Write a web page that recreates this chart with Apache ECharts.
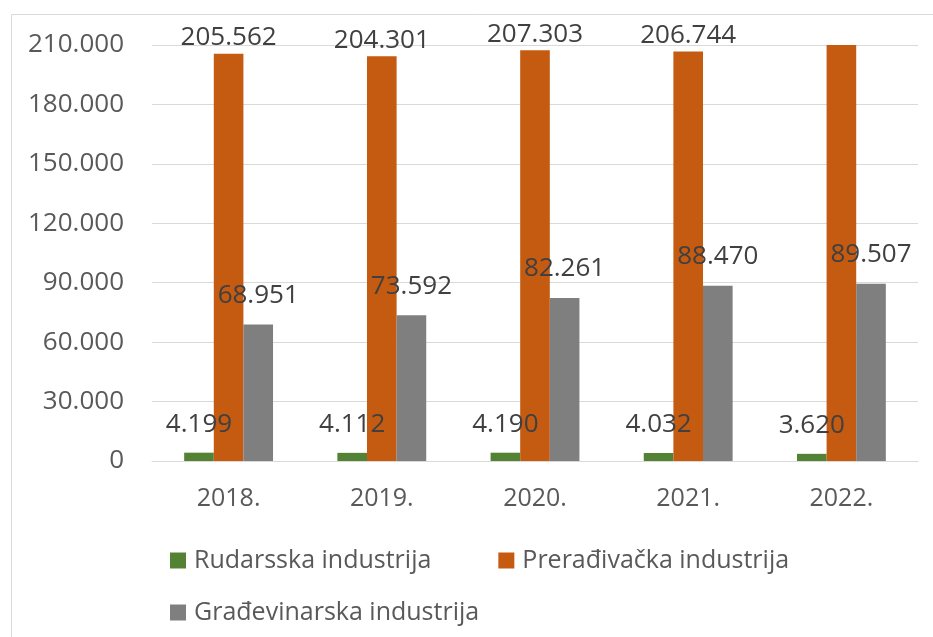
<!DOCTYPE html>
<html>
<head>
<meta charset="utf-8">
<title>Industrija</title>
<script src="https://cdn.jsdelivr.net/npm/echarts@6/dist/echarts.min.js"></script>
<style>
  html, body { margin: 0; padding: 0; background: #fff; }
  #chart { width: 933px; height: 637px; }
</style>
</head>
<body>
<div id="chart"></div>
<script>
// godine i vrijednosti po granama industrije
var years = ['2018.', '2019.', '2020.', '2021.', '2022.'];
var rudarska = [4199, 4112, 4190, 4032, 3620];
var preradjivacka = [205562, 204301, 207303, 206744, 212000]; // 2022 izlazi iz okvira, bez oznake
var gradjevinarska = [68951, 73592, 82261, 88470, 89507];
var yTicks = [0, 30000, 60000, 90000, 120000, 150000, 180000, 210000];

var seriesNames = ['Rudarsska industrija', 'Prerađivačka industrija', 'Građevinarska industrija'];
var colors = ['#548235', '#c55a11', '#7f7f7f'];
var FONT = 'Open Sans';

function fmt(v) {
    return Math.round(v).toString().replace(/\B(?=(\d{3})+(?!\d))/g, '.');
}

function labelCfg(distance) {
    return {
        show: true,
        position: 'top',
        distance: distance,
        color: '#404040',
        fontFamily: FONT,
        fontSize: 26,
        formatter: function (p) { return fmt(p.value); }
    };
}

var chart = echarts.init(document.getElementById('chart'));

var legendText = { color: '#595959', fontFamily: FONT, fontSize: 25, padding: [0, 0, 0, 3] };

var option = {
    animation: false,
    backgroundColor: '#fff',
    color: colors,
    graphic: [{
        type: 'rect',
        shape: { x: 11.5, y: 14.5, width: 1000, height: 700 },
        style: { fill: 'none', stroke: '#d9d9d9', lineWidth: 1 },
        silent: true
    }],
    grid: {
        left: 152,
        right: 15,
        top: 45,
        bottom: 176
    },
    legend: [
        {
            left: 165,
            top: 543,
            icon: 'rect',
            itemWidth: 16,
            itemHeight: 16,
            itemGap: 67,
            textStyle: legendText,
            data: [seriesNames[0], seriesNames[1]]
        },
        {
            left: 165,
            top: 595,
            icon: 'rect',
            itemWidth: 16,
            itemHeight: 16,
            textStyle: legendText,
            data: [seriesNames[2]]
        }
    ],
    xAxis: {
        type: 'category',
        data: years,
        axisTick: { show: false },
        axisLine: { lineStyle: { color: '#d9d9d9', width: 1 } },
        axisLabel: { color: '#595959', fontFamily: FONT, fontSize: 25, margin: 25 }
    },
    yAxis: {
        type: 'value',
        min: yTicks[0],
        max: yTicks[yTicks.length - 1],
        interval: 30000,
        axisLine: { show: false },
        axisTick: { show: false },
        splitLine: { lineStyle: { color: '#d9d9d9', width: 1 } },
        axisLabel: {
            color: '#595959',
            fontFamily: FONT,
            fontSize: 26,
            margin: 28,
            formatter: function (v) { return fmt(v); }
        }
    },
    series: [
        {
            name: seriesNames[0],
            type: 'bar',
            barGap: '0%',
            barCategoryGap: '42%',
            data: rudarska,
            label: labelCfg(15)
        },
        {
            name: seriesNames[1],
            type: 'bar',
            barGap: '0%',
            barCategoryGap: '42%',
            clip: true,
            data: preradjivacka.map(function (v) {
                return v > yTicks[yTicks.length - 1] ? { value: v, label: { show: false } } : v;
            }),
            label: labelCfg(3)
        },
        {
            name: seriesNames[2],
            type: 'bar',
            barGap: '0%',
            barCategoryGap: '42%',
            data: gradjevinarska,
            label: labelCfg(16)
        }
    ]
};

chart.setOption(option);
</script>
</body>
</html>
